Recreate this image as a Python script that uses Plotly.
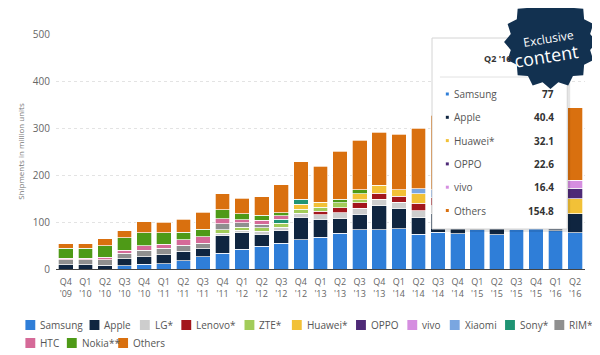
import numpy as np
import plotly.graph_objects as go

# ---------------- data ----------------
quarters = ["Q4<br>'09", "Q1<br>'10", "Q2<br>'10", "Q3<br>'10", "Q4<br>'10",
            "Q1<br>'11", "Q2<br>'11", "Q3<br>'11", "Q4<br>'11",
            "Q1<br>'12", "Q2<br>'12", "Q3<br>'12", "Q4<br>'12",
            "Q1<br>'13", "Q2<br>'13", "Q3<br>'13", "Q4<br>'13",
            "Q1<br>'14", "Q2<br>'14", "Q3<br>'14", "Q4<br>'14",
            "Q1<br>'15", "Q2<br>'15", "Q3<br>'15", "Q4<br>'15",
            "Q1<br>'16", "Q2<br>'16"]
N = None
samsung = [N, N, N, 7.2, 9.6, 11.5, 17.3, 26.0, 34.0, 42.2, 48.0, 55.0, 62.0, 68.0,
           76.0, 83.0, 84.0, 86.0, 74.3, 78.1, 75.1, 83.2, 73.2, 84.5, 85.6, 81.9, 77.0]
apple = [8.7, 8.7, 8.4, 14.1, 16.2, 18.6, 20.3, 17.1, 37.0, 35.1, 26.0, 26.9, 47.8, 37.4,
         31.2, 33.8, 51.0, 43.7, 35.1, 39.3, 74.5, 61.2, 47.5, 48.0, 74.8, 51.2, 40.4]
lg = [N, N, N, N, N, N, N, N, 5.5, 4.9, 5.8, 7.0, 8.6, 10.3,
      12.1, 12.0, 13.2, 12.3, 14.5, 16.8, N, 15.4, N, N, N, N, N]
lenovo = [N, N, N, N, N, N, N, N, N, N, N, N, N, 7.0,
          11.3, 12.3, 13.2, 12.9, 15.8, 16.9, 24.3, 18.8, 16.2, 18.8, 20.2, N, N]
zte = [N, N, N, N, N, N, N, N, 7.0, 6.4, 8.0, 8.0, 9.1, 9.1,
       10.1, 6.0, N, N, N, N, N, N, N, N, N, N, N]
huawei = [N, N, N, N, N, N, N, N, N, N, N, N, 10.8, 9.9,
          N, 12.7, 16.6, 13.7, 20.3, N, 21.0, 17.4, 30.0, 26.5, 32.4, 27.5, 32.1]
oppo = [N] * 25 + [18.5, 22.6]
vivo = [N] * 25 + [14.3, 16.4]
xiaomi = [N, N, N, N, N, N, N, N, N, N, N, N, N, N,
          N, N, N, N, 11.0, 17.3, 18.6, N, 17.4, 18.3, 18.2, N, N]
sony = [N, N, N, N, N, N, N, N, N, N, N, 8.8, 9.8, N,
        N, N, N, N, N, N, N, N, N, N, N, N, N]
rim = [10.7, 10.6, 11.2, 12.4, 14.6, 13.8, 12.5, 11.8, 13.2, 9.7, 7.4, N, N, N,
       N, N, N, N, N, N, N, N, N, N, N, N, N]
htc = [3.5, 3.3, 5.4, 5.9, 8.6, 9.0, 11.7, 13.2, 10.2, 6.9, 8.8, 7.3, N, N,
       N, N, N, N, N, N, N, N, N, N, N, N, N]
nokia = [20.8, 21.5, 24.0, 26.5, 28.3, 24.2, 16.7, 16.8, 19.6, 11.9, 10.2, 6.3, N, N,
         7.4, 8.8, N, N, N, N, N, N, N, N, N, N, N]
others = [10.3, 9.9, 15.0, 14.9, 23.7, 22.9, 27.5, 36.1, 33.5, 33.9, 39.8, 59.7, 79.9, 77.3,
          102.9, 105.4, 113.0, 118.4, 129.0, 159.2, 161.7, 140.0, 157.2, 159.1, 168.3, 141.5, 154.8]

vendor_names = ["Samsung", "Apple", "LG*", "Lenovo*", "ZTE*", "Huawei*", "OPPO", "vivo",
                "Xiaomi", "Sony*", "RIM*", "HTC", "Nokia**", "Others"]
vendor_values = [samsung, apple, lg, lenovo, zte, huawei, oppo, vivo,
                 xiaomi, sony, rim, htc, nokia, others]
vendor_colors = ["#2f7ed8", "#0f2540", "#cdcdcd", "#a3161c", "#a2cc5a", "#f2c137", "#4e2a77",
                 "#d58ee0", "#7aa6e0", "#1f9474", "#8f8f8f", "#d56a98", "#4e9a17", "#d9700f"]

y_ticks = [0, 100, 200, 300, 400, 500]

# ---------------- geometry (page pixels -> paper) ----------------
OFF = 8                       # default body margin of the html page
W, H = 600 - OFF, 355 - OFF
PL, PR, PT, PB = 49, 585, 34, 269   # plot area in page pixels
ML, MR, MT, MB = PL - OFF, W - (PR - OFF), PT - OFF, H - (PB - OFF)


def px(x):
    return (x - PL) / (PR - PL)


def py(y):
    return (PB - y) / (PB - PT)


FONT = "Open Sans, Noto Sans, sans-serif"

fig = go.Figure()
for name, vals, col in zip(vendor_names, vendor_values, vendor_colors):
    fig.add_trace(go.Bar(
        x=quarters, y=vals, name=name, showlegend=False,
        marker=dict(color=col, line=dict(color="white", width=0.7)),
    ))

shapes = []
annotations = []

# ---------- manual legend ----------
legend_pos = [(18, 325), (83, 325), (134, 325), (176, 325), (240, 325), (288, 325),
              (353, 325), (405, 325), (448, 325), (504, 325), (554, 325),
              (18, 343), (60, 343), (112, 343)]
for (lx, ly), name, col in zip(legend_pos, vendor_names, vendor_colors):
    shapes.append(dict(type="rect", xref="paper", yref="paper",
                       x0=px(lx), x1=px(lx + 10), y0=py(ly + 5), y1=py(ly - 5),
                       fillcolor=col, line=dict(width=0), layer="above"))
    annotations.append(dict(x=px(lx + 13), y=py(ly), xref="paper", yref="paper",
                            text=name, showarrow=False, xanchor="left", yanchor="middle",
                            font=dict(size=10, color="#555", family=FONT)))

# ---------- tooltip ----------
tx0, tx1, ty0, ty1 = 430, 567, 38, 229
shapes.append(dict(type="rect", xref="paper", yref="paper",
                   x0=px(tx0 + 2), x1=px(tx1 + 3), y0=py(ty1 + 3), y1=py(ty0 + 2),
                   fillcolor="rgba(0,0,0,0.10)", line=dict(width=0), layer="above"))
shapes.append(dict(type="rect", xref="paper", yref="paper",
                   x0=px(tx0), x1=px(tx1), y0=py(ty1), y1=py(ty0),
                   fillcolor="white", line=dict(color="#d4d4d4", width=1), layer="above"))
shapes.append(dict(type="line", xref="paper", yref="paper",
                   x0=px(438), x1=px(560), y0=py(77), y1=py(77),
                   line=dict(color="#e2e2e2", width=1), layer="above"))

last = len(quarters) - 1
annotations.append(dict(x=px(496), y=py(58), xref="paper", yref="paper",
                        text="<b>" + quarters[last].replace("<br>", " ") + "</b>",
                        showarrow=False, xanchor="center", yanchor="middle",
                        font=dict(size=9, color="#333", family=FONT)))
row_y = 94
for name, vals, col in zip(vendor_names, vendor_values, vendor_colors):
    v = vals[last]
    if v is None:
        continue
    shapes.append(dict(type="rect", xref="paper", yref="paper",
                       x0=px(444), x1=px(447), y0=py(row_y + 1.5), y1=py(row_y - 1.5),
                       fillcolor=col, line=dict(width=0), layer="above"))
    annotations.append(dict(x=px(450), y=py(row_y), xref="paper", yref="paper",
                            text=name, showarrow=False, xanchor="left", yanchor="middle",
                            font=dict(size=10, color="#555", family=FONT)))
    annotations.append(dict(x=px(556), y=py(row_y), xref="paper", yref="paper",
                            text="<b>" + f"{v:g}" + "</b>", showarrow=False,
                            xanchor="right", yanchor="middle",
                            font=dict(size=10, color="#333", family=FONT)))
    row_y += 23.3

# ---------- exclusive badge ----------
cx, cy, r_out, r_in, npts = 550, 42, 47, 41, 16
ang = np.linspace(0, 2 * np.pi, 2 * npts, endpoint=False) - np.pi / 2
rad = np.where(np.arange(2 * npts) % 2 == 0, r_out, r_in)
bx = cx + rad * np.cos(ang)
by = cy + rad * np.sin(ang)
path = "M " + " L ".join(f"{px(a):.4f},{py(b):.4f}" for a, b in zip(bx, by)) + " Z"
shapes.append(dict(type="path", xref="paper", yref="paper", path=path,
                   fillcolor="#123150", line=dict(width=0), layer="above"))
annotations.append(dict(x=px(548), y=py(38), xref="paper", yref="paper", text="Exclusive",
                        showarrow=False, textangle=-9, xanchor="center", yanchor="middle",
                        font=dict(size=12, color="white", family=FONT)))
annotations.append(dict(x=px(545), y=py(56), xref="paper", yref="paper", text="content",
                        showarrow=False, textangle=-9, xanchor="center", yanchor="middle",
                        font=dict(size=18, color="white", family=FONT)))

fig.update_layout(
    width=W, height=H,
    margin=dict(l=ML, r=MR, t=MT, b=MB),
    barmode="stack", bargap=0.25,
    plot_bgcolor="white", paper_bgcolor="white",
    font=dict(family=FONT, color="#666"),
    shapes=shapes, annotations=annotations,
    xaxis=dict(showgrid=False, showline=True, linecolor="#444", linewidth=1,
               tickfont=dict(size=9, color="#666"), ticks="", ticklabelstandoff=4),
    yaxis=dict(range=[0, 500], tickvals=y_ticks, showgrid=True, gridcolor="#e3e3e3",
               griddash="dot", zeroline=False, tickfont=dict(size=10, color="#666"),
               ticklabelstandoff=5,
               title=dict(text="Shipments in million units", standoff=7,
                          font=dict(size=8, color="#777"))),
)

fig.write_html("out.html")
